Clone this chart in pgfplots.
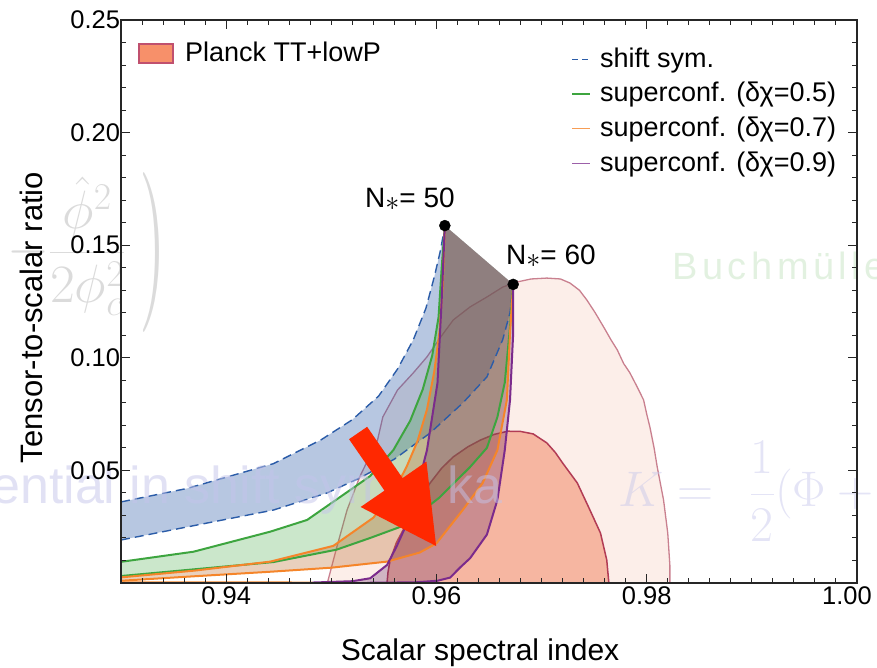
\RequirePackage{fix-cm}
\documentclass[border=0pt]{standalone}
\usepackage{fontspec}
\setmainfont{Liberation Sans}
\newfontfamily\spacedsans[LetterSpace=12]{Liberation Sans}
\usepackage{graphicx}
\usepackage{pgfplots}
\usepackage{pgfplotstable}
\usepgfplotslibrary{fillbetween}
\pgfplotsset{compat=1.18}

\definecolor{shiftblue}{HTML}{2B5CA8}
\definecolor{scgreen}{HTML}{3DA53F}
\definecolor{scorange}{HTML}{F5852A}
\definecolor{scorangefill}{HTML}{BD7037}
\definecolor{scpurple}{HTML}{7B2B8C}
\definecolor{scpurplefill}{HTML}{5F2364}
\definecolor{planckout}{HTML}{FCEEE9}
\definecolor{planckoutline}{HTML}{C9808F}
\definecolor{planckin}{HTML}{F6B6A1}
\definecolor{planckinline}{HTML}{B23C55}
\definecolor{legfill}{HTML}{F7906A}
\definecolor{legedge}{HTML}{C0506E}
\definecolor{arrowred}{HTML}{FF2800}
\definecolor{wmlav}{HTML}{C4C4EA}
\definecolor{wmgreen}{HTML}{C6E3C2}

% Planck TT+lowP contours (95% and 68%)
\pgfplotstableread{
x y
0.9496 0.0000
0.9497 0.0013
0.9505 0.0155
0.9515 0.0324
0.9527 0.0471
0.9544 0.0635
0.9549 0.0737
0.9563 0.0857
0.9578 0.0933
0.9591 0.1004
0.9604 0.1092
0.9616 0.1168
0.9632 0.1226
0.9648 0.1270
0.9663 0.1314
0.9677 0.1337
0.9690 0.1350
0.9705 0.1354
0.9718 0.1350
0.9727 0.1332
0.9736 0.1300
0.9743 0.1257
0.9751 0.1200
0.9759 0.1137
0.9766 0.1080
0.9772 0.1035
0.9778 0.0975
0.9784 0.0933
0.9791 0.0870
0.9797 0.0813
0.9800 0.0750
0.9803 0.0693
0.9807 0.0600
0.9810 0.0515
0.9816 0.0369
0.9820 0.0222
0.9822 0.0080
0.9822 0.0000
}\planckOuter

\pgfplotstableread{
x y
0.9553 0.0000
0.9554 0.0050
0.9556 0.0102
0.9562 0.0180
0.9570 0.0250
0.9584 0.0369
0.9594 0.0444
0.9605 0.0510
0.9616 0.0560
0.9630 0.0605
0.9642 0.0635
0.9655 0.0660
0.9668 0.0674
0.9680 0.0673
0.9692 0.0662
0.9705 0.0622
0.9713 0.0580
0.9720 0.0533
0.9734 0.0444
0.9746 0.0324
0.9756 0.0222
0.9762 0.0102
0.9764 0.0000
}\planckInner

% shift-symmetric model: N=50 and N=60 edges
\pgfplotstableread{
x y
0.9300 0.0360
0.9363 0.0420
0.9445 0.0530
0.9490 0.0635
0.9520 0.0725
0.9545 0.0830
0.9563 0.0950
0.9578 0.1080
0.9590 0.1220
0.9598 0.1360
0.9604 0.1480
0.9608 0.1587
}\shiftA

\pgfplotstableread{
x y
0.9300 0.0191
0.9363 0.0249
0.9445 0.0324
0.9496 0.0400
0.9527 0.0466
0.9560 0.0550
0.9594 0.0666
0.9625 0.0799
0.9648 0.0915
0.9663 0.1080
0.9670 0.1200
0.9673 0.1326
}\shiftB

% superconformal, delta chi = 0.5
\pgfplotstableread{
x y
0.9300 0.0094
0.9369 0.0139
0.9442 0.0228
0.9477 0.0280
0.9518 0.0413
0.9537 0.0475
0.9559 0.0590
0.9575 0.0720
0.9587 0.0860
0.9596 0.1010
0.9602 0.1180
0.9605 0.1400
0.9608 0.1587
}\greenA

\pgfplotstableread{
x y
0.9300 0.0031
0.9445 0.0093
0.9505 0.0148
0.9537 0.0200
0.9569 0.0255
0.9603 0.0380
0.9632 0.0515
0.9648 0.0600
0.9658 0.0737
0.9665 0.0890
0.9670 0.1137
0.9673 0.1326
}\greenB

% superconformal, delta chi = 0.7
\pgfplotstableread{
x y
0.9300 0.0025
0.9370 0.0055
0.9442 0.0095
0.9502 0.0165
0.9540 0.0290
0.9560 0.0410
0.9572 0.0520
0.9582 0.0630
0.9591 0.0770
0.9598 0.0940
0.9603 0.1120
0.9606 0.1320
0.9608 0.1587
}\orangeA

\pgfplotstableread{
x y
0.9300 0.0010
0.9370 0.0030
0.9442 0.0050
0.9500 0.0068
0.9553 0.0095
0.9584 0.0135
0.9600 0.0176
0.9625 0.0324
0.9644 0.0444
0.9658 0.0590
0.9667 0.0813
0.9670 0.1110
0.9673 0.1326
}\orangeB

% lower branch running along the axis
\pgfplotstableread{
x y
0.9300 0.0003
0.9400 0.0003
0.9482 0.0002
}\orangeC

% superconformal, delta chi = 0.9
\pgfplotstableread{
x y
0.9482 0.0002
0.9520 0.0008
0.9537 0.0021
0.9553 0.0080
0.9562 0.0161
0.9572 0.0265
0.9580 0.0390
0.9591 0.0590
0.9601 0.0888
0.9605 0.1257
0.9608 0.1587
}\purpleA

\pgfplotstableread{
x y
0.9534 0.0001
0.9580 0.0003
0.9601 0.0010
0.9613 0.0024
0.9623 0.0071
0.9632 0.0110
0.9648 0.0215
0.9658 0.0369
0.9665 0.0590
0.9670 0.0813
0.9673 0.1110
0.9673 0.1326
}\purpleB

\begin{document}
\begin{tikzpicture}
\begin{axis}[
  scale only axis, width=736pt, height=563pt,
  xmin=0.93, xmax=1.0, ymin=0, ymax=0.25,
  clip=false, axis on top,
  xtick={0.94,0.96,0.98,1.00},
  xticklabels={0.94,0.96,0.98,{\makebox[0pt]{1.00\hspace*{20pt}}}},
  ytick={0.05,0.10,0.15,0.20,0.25},
  yticklabels={0.05,0.10,0.15,0.20,0.25},
  minor xtick={0.932,0.934,...,0.999},
  minor ytick={0.01,0.02,...,0.245},
  major tick length=9pt, minor tick length=5pt,
  every tick/.style={line width=1pt, black!85},
  axis line style={line width=2pt, black!85},
  tick label style={font=\fontsize{25.5}{30}\selectfont},
  yticklabel style={xshift=2.5pt},
  xlabel={Scalar spectral index},
  ylabel={Tensor-to-scalar ratio},
  xlabel style={font=\fontsize{30}{36}\selectfont, at={(axis description cs:0.4878,-0.1368)}, anchor=base},
  ylabel style={font=\fontsize{31}{36}\selectfont, at={(axis description cs:-0.106,0.4716)}, anchor=base},
]

% Planck regions
\addplot[fill=planckout, draw=planckoutline, line width=1.3pt] table {\planckOuter} \closedcycle;
\addplot[fill=planckin, draw=planckinline, line width=1.5pt] table {\planckInner} \closedcycle;

% edges of the model bands
\addplot[draw=none, name path=sA] table {\shiftA};
\addplot[draw=none, name path=sB] table {\shiftB};
\addplot[draw=none, name path=gA] table {\greenA};
\addplot[draw=none, name path=gB] table {\greenB};
\addplot[draw=none, name path=oA] table {\orangeA};
\addplot[draw=none, name path=oB] table {\orangeB};
\addplot[draw=none, name path=pA] table {\purpleA};
\addplot[draw=none, name path=pB] table {\purpleB};

% bands between N=50 and N=60
\addplot[fill=shiftblue, fill opacity=0.34, draw=none] fill between[of=sA and sB, on layer=main];
\addplot[fill=scgreen, fill opacity=0.27, draw=none] fill between[of=gA and gB, on layer=main];
\addplot[fill=scorangefill, fill opacity=0.33, draw=none] fill between[of=oA and oB, on layer=main];
\addplot[fill=scpurplefill, fill opacity=0.28, draw=none] fill between[of=pA and pB, on layer=main];

% edge curves
\addplot[shiftblue, line width=1.4pt, dash pattern=on 9pt off 5pt] table {\shiftA};
\addplot[shiftblue, line width=1.4pt, dash pattern=on 9pt off 5pt] table {\shiftB};
\addplot[scgreen, line width=2pt] table {\greenA};
\addplot[scgreen, line width=2pt] table {\greenB};
\addplot[scorange, line width=2pt] table {\orangeA};
\addplot[scorange, line width=2pt] table {\orangeB};
\addplot[scorange, line width=2pt] table {\orangeC};
\addplot[scpurple, line width=2pt] table {\purpleA};
\addplot[scpurple, line width=2pt] table {\purpleB};

% faint slide text behind the annotations
\node[anchor=base west, inner sep=0, text=black!14, font=\fontsize{54}{64}\selectfont]
  at (axis cs:0.91914,0.14099) {$-\displaystyle\frac{\hat{\phi}^2}{2\phi_c^2}$};
\node[inner sep=0, text=black!14, font=\fontsize{10}{12}\selectfont]
  at (axis cs:0.93304,0.14654) {\scalebox{6.9}[16]{$)$}};
\node[anchor=base east, inner sep=0, text=wmlav, opacity=0.5, font=\fontsize{52}{62}\selectfont]
  at (axis cs:0.91764,0.03552) {pot};
\node[anchor=base west, inner sep=0, text=wmlav, opacity=0.5, font=\fontsize{52}{62}\selectfont]
  at (axis cs:0.91764,0.03552) {ential in shift sym\hspace{1.1em}ka};
\node[anchor=base west, inner sep=0, text=wmgreen, opacity=0.5, font=\spacedsans\fontsize{38}{46}\selectfont]
  at (axis cs:0.98241,0.13455) {Buchmüller};
\node[anchor=base west, inner sep=0, text=wmlav, opacity=0.45, font=\fontsize{50}{60}\selectfont]
  at (axis cs:0.97727,0.03375) {$K=\hspace{0.45em}\displaystyle\frac{1}{2}(\Phi+\bar{\Phi}$};

% red arrow
\fill[arrowred] (axis cs:0.95169,0.06385) -- (axis cs:0.95341,0.06936)
  -- (axis cs:0.95678,0.04658) -- (axis cs:0.95905,0.05391)
  -- (axis cs:0.95997,0.01643) -- (axis cs:0.95279,0.03375)
  -- (axis cs:0.95506,0.04103) -- cycle;

% N = 50 and N = 60 endpoints
\addplot[only marks, mark=*, mark size=5.5pt, black] coordinates {(0.9608,0.1587) (0.9673,0.1326)};
\node[anchor=base west, inner sep=0, font=\fontsize{28}{34}\selectfont]
  at (axis cs:0.95321,0.16696) {N\raisebox{-3pt}{$\ast$}= 50};
\node[anchor=base west, inner sep=0, font=\fontsize{28}{34}\selectfont]
  at (axis cs:0.96662,0.14121) {N\raisebox{-3pt}{$\ast$}= 60};

% legends
\draw[fill=legfill, draw=legedge, line width=2.5pt]
  (rel axis cs:0.02446,0.9236) rectangle (rel axis cs:0.07065,0.9574);
\node[anchor=base west, inner sep=0, font=\fontsize{27}{32}\selectfont]
  at (rel axis cs:0.08696,0.9254) {Planck TT+lowP};

\draw[shiftblue, line width=1pt, dash pattern=on 6pt off 4pt]
  (rel axis cs:0.6128,0.9302) -- (rel axis cs:0.6372,0.9302);
\draw[scgreen, line width=1.2pt] (rel axis cs:0.6128,0.8686) -- (rel axis cs:0.6372,0.8686);
\draw[scorange!80, line width=1.2pt] (rel axis cs:0.6128,0.8070) -- (rel axis cs:0.6372,0.8070);
\draw[scpurple!75, line width=1.2pt] (rel axis cs:0.6128,0.7453) -- (rel axis cs:0.6372,0.7453);
\begin{scope}[every node/.style={anchor=base west, inner sep=0, font=\fontsize{27}{32}\selectfont}]
\node at (rel axis cs:0.6508,0.9165) {shift sym.};
\node at (rel axis cs:0.6508,0.8549) {superconf. (δχ=0.5)};
\node at (rel axis cs:0.6508,0.7933) {superconf. (δχ=0.7)};
\node at (rel axis cs:0.6508,0.7316) {superconf. (δχ=0.9)};
\end{scope}
\end{axis}
\pgfresetboundingbox
\useasboundingbox (-121pt,-84pt) rectangle (756pt,583pt);
\end{tikzpicture}
\end{document}
